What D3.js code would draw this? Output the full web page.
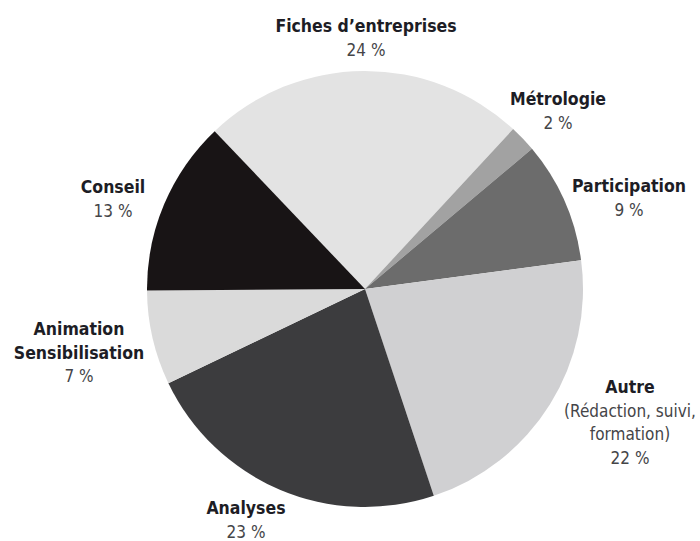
<!DOCTYPE html>
<html>
<head>
<meta charset="utf-8">
<script src="https://cdn.jsdelivr.net/npm/d3@7"></script>
<style>
  html, body { margin: 0; padding: 0; background: #fff; }
  svg { display: block; }
  .name { font-family: "Liberation Sans Narrow", "Arial Narrow", "DejaVu Sans Condensed", sans-serif; font-weight: bold; font-size: 17.5px; fill: #1d1d25; }
  .sub, .pct { font-family: "Liberation Sans Narrow", "Arial Narrow", "DejaVu Sans Condensed", sans-serif; font-size: 17px; fill: #454548; }
</style>
</head>
<body>
<svg id="chart" width="700" height="541"></svg>
<script>
// Activity breakdown, clockwise from "Fiches d'entreprises"
const categories = ["Fiches d\u2019entreprises", "Métrologie", "Participation", "Autre", "Analyses", "Animation Sensibilisation", "Conseil"];
const shares = [24, 2, 9, 22, 23, 7, 13];
const subtitles = ["", "", "", "(Rédaction, suivi,|formation)", "", "", ""];
const fills = ["#e3e3e3", "#a2a2a2", "#6c6c6c", "#d0d0d2", "#3c3c3e", "#dadada", "#181415"];

const svg = d3.select("#chart");
const cx = 365, cy = 289, radius = 218;
const startDeg = -43.6;

const pie = d3.pie()
  .sort(null)
  .value(d => d.value)
  .startAngle(startDeg * Math.PI / 180)
  .endAngle((startDeg + 360) * Math.PI / 180);

const data = categories.map((c, i) => ({ name: c, value: shares[i], sub: subtitles[i], fill: fills[i] }));
const arcs = pie(data);
const arc = d3.arc().innerRadius(0).outerRadius(radius);

const g = svg.append("g").attr("transform", `translate(${cx},${cy})`);
g.selectAll("path")
  .data(arcs)
  .join("path")
  .attr("d", arc)
  .attr("fill", d => d.data.fill);

// Label anchor (x of centre, baseline of first line) for each slice
const labelAt = {
  "Fiches d\u2019entreprises": [366, 32],
  "Métrologie": [558, 105],
  "Participation": [629, 192],
  "Autre": [630, 393],
  "Analyses": [246, 514],
  "Animation Sensibilisation": [79, 335],
  "Conseil": [113, 193]
};
const lineH = 23.5;

arcs.forEach(a => {
  const [x, y] = labelAt[a.data.name];
  const t = svg.append("text").attr("text-anchor", "middle");
  let lines = [];
  if (a.data.name === "Animation Sensibilisation") {
    lines.push({ text: "Animation", cls: "name" }, { text: "Sensibilisation", cls: "name" });
  } else {
    lines.push({ text: a.data.name, cls: "name" });
  }
  if (a.data.sub) a.data.sub.split("|").forEach(s => lines.push({ text: s, cls: "sub" }));
  lines.push({ text: a.data.value + " %", cls: "pct" });
  lines.forEach((l, i) => {
    t.append("tspan")
      .attr("x", x)
      .attr("y", y + i * lineH)
      .attr("class", l.cls)
      .text(l.text);
  });
});
</script>
</body>
</html>
